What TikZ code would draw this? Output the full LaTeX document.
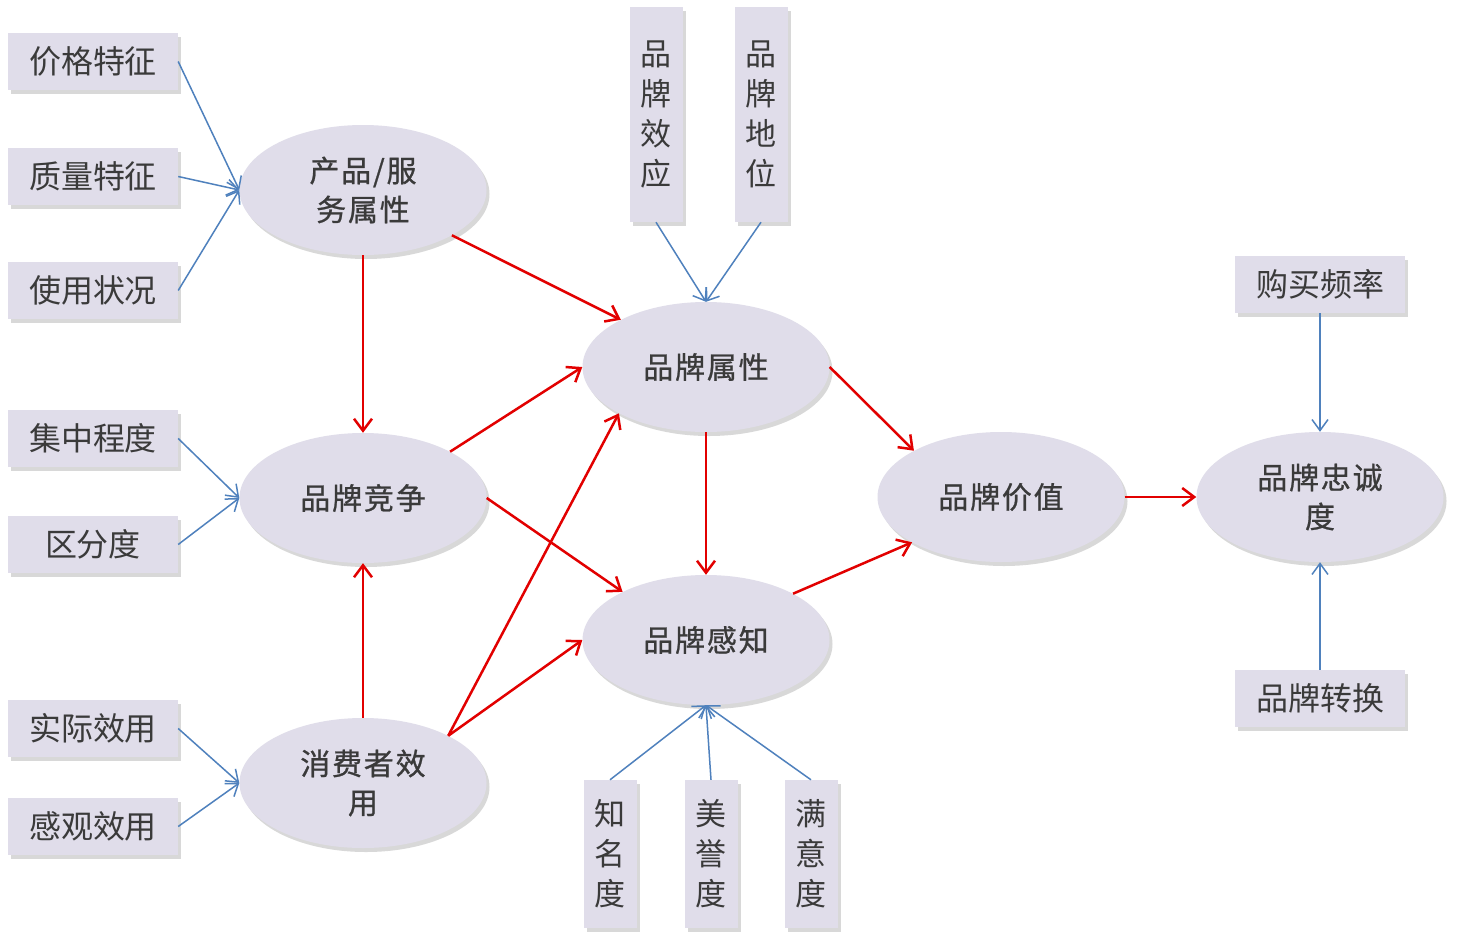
\documentclass[tikz,border=0pt]{standalone}
\usepackage{fontspec}
\setmainfont{Noto Sans CJK SC}
\newfontfamily\ellfont{Noto Sans CJK SC}[FakeBold=0.8,LetterSpace=6]
\usetikzlibrary{shapes.geometric,arrows.meta,shadows}
\definecolor{boxfill}{RGB}{224,221,234}
\definecolor{txt}{RGB}{58,58,58}
\definecolor{blueline}{RGB}{79,129,189}
\definecolor{redline}{RGB}{226,0,0}
\begin{document}
\begin{tikzpicture}[x=1pt,y=-1pt,
  shad/.style={drop shadow={shadow xshift=3pt,shadow yshift=-4pt,opacity=0.25,fill=black!60}},
  hbox/.style={shad,fill=boxfill,draw=none,minimum width=170pt,minimum height=57pt,inner sep=0pt,text=txt,font=\fontsize{32}{38}\selectfont},
  vbox/.style={shad,fill=boxfill,draw=none,minimum width=53pt,inner sep=0pt,text width=53pt,align=center,text=txt,font=\fontsize{31}{40}\selectfont},
  ell/.style={shad,ellipse,fill=boxfill,draw=none,minimum width=247pt,minimum height=130pt,inner sep=0pt,align=center,text=txt,font=\ellfont\fontsize{30}{39}\selectfont},
  barrow/.style={draw=blueline,line width=1.5pt,-{Straight Barb[length=11pt,width=16pt,line width=1.5pt]}},
  rarrow/.style={draw=redline,line width=2.5pt,-{Straight Barb[length=12pt,width=18pt,line width=2.5pt]}}
]
\useasboundingbox (0,0) rectangle (1457,948);
\fill[white] (0,0) rectangle (1457,948);

% ellipses
\node[ell] (prod) at (363,190) {产品/服\\务属性};
\node[ell] (comp) at (363,498) {品牌竞争};
\node[ell] (util) at (363,783) {消费者效\\用};
\node[ell] (attr) at (706,367) {品牌属性};
\node[ell] (perc) at (706,640) {品牌感知};
\node[ell] (val) at (1001,497) {品牌价值};
\node[ell] (loy) at (1320,497) {品牌忠诚\\度};

% left boxes
\node[hbox] (b1) at (93,61.5) {价格特征};
\node[hbox] (b2) at (93,176.5) {质量特征};
\node[hbox] (b3) at (93,290.5) {使用状况};
\node[hbox] (b4) at (93,438.5) {集中程度};
\node[hbox] (b5) at (93,544.5) {区分度};
\node[hbox] (b6) at (93,728.5) {实际效用};
\node[hbox] (b7) at (93,826.5) {感观效用};

% top vertical boxes
\node[vbox,minimum height=215pt] (t1) at (656,114.5) {品\\牌\\效\\应};
\node[vbox,minimum height=215pt] (t2) at (761,114.5) {品\\牌\\地\\位};

% bottom vertical boxes
\node[vbox,minimum height=148pt] (d1) at (610,854) {知\\名\\度};
\node[vbox,minimum height=148pt] (d2) at (711,854) {美\\誉\\度};
\node[vbox,minimum height=148pt] (d3) at (811,854) {满\\意\\度};

% right boxes
\node[hbox] (r1) at (1320,284.5) {购买频率};
\node[hbox] (r2) at (1320,698.5) {品牌转换};

% blue arrows
\draw[barrow] (b1.east) -- (prod.west);
\draw[barrow] (b2.east) -- (prod.west);
\draw[barrow] (b3.east) -- (prod.west);
\draw[barrow] (b4.east) -- (comp.west);
\draw[barrow] (b5.east) -- (comp.west);
\draw[barrow] (b6.east) -- (util.west);
\draw[barrow] (b7.east) -- (util.west);
\draw[barrow] (t1.south) -- (attr.north);
\draw[barrow] (t2.south) -- (attr.north);
\draw[barrow] (d1.north) -- (perc.south);
\draw[barrow] (d2.north) -- (perc.south);
\draw[barrow] (d3.north) -- (perc.south);
\draw[barrow] (r1.south) -- (loy.north);
\draw[barrow] (r2.north) -- (loy.south);

% red arrows
\draw[rarrow] (prod.south) -- (comp.north);
\draw[rarrow] (prod.-27) -- (attr.151);
\draw[rarrow] (comp.28) -- (attr.west);
\draw[rarrow] (comp.east) -- (perc.150);
\draw[rarrow] (util.north) -- (comp.south);
\draw[rarrow] (util.29) -- (attr.-152);
\draw[rarrow] (util.29) -- (perc.west);
\draw[rarrow] (attr.south) -- (perc.north);
\draw[rarrow] (attr.east) -- (val.152);
\draw[rarrow] (perc.28) -- (val.-153);
\draw[rarrow] (val.east) -- (loy.west);
\end{tikzpicture}
\end{document}
